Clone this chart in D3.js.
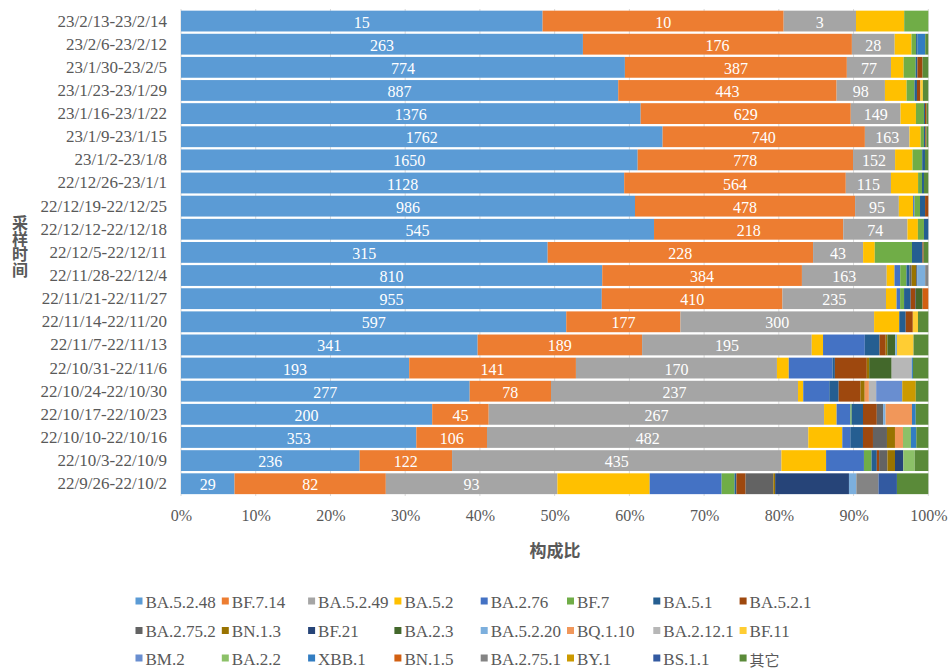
<!DOCTYPE html>
<html><head><meta charset="utf-8">
<script src="https://cdn.jsdelivr.net/npm/d3@7"></script>
<style>body{margin:0;background:#fff} svg{display:block}</style>
</head><body><svg id="c" width="949" height="668"></svg>
<script>
const categories = ["23/2/13-23/2/14","23/2/6-23/2/12","23/1/30-23/2/5","23/1/23-23/1/29","23/1/16-23/1/22","23/1/9-23/1/15","23/1/2-23/1/8","22/12/26-23/1/1","22/12/19-22/12/25","22/12/12-22/12/18","22/12/5-22/12/11","22/11/28-22/12/4","22/11/21-22/11/27","22/11/14-22/11/20","22/11/7-22/11/13","22/10/31-22/11/6","22/10/24-22/10/30","22/10/17-22/10/23","22/10/10-22/10/16","22/10/3-22/10/9","22/9/26-22/10/2"];
const seriesNames = ["BA.5.2.48","BF.7.14","BA.5.2.49","BA.5.2","BA.2.76","BF.7","BA.5.1","BA.5.2.1","BA.2.75.2","BN.1.3","BF.21","BA.2.3","BA.5.2.20","BQ.1.10","BA.2.12.1","BF.11","BM.2","BA.2.2","XBB.1","BN.1.5","BA.2.75.1","BY.1","BS.1.1","其它"];
const seriesColors = ["#5B9BD5","#ED7D31","#A5A5A5","#FFC000","#4472C4","#70AD47","#255E91","#9E480E","#636363","#997300","#264478","#43682B","#7CAFDD","#F1975A","#B7B7B7","#FFCD33","#698ED0","#8CC168","#327DC2","#D26012","#848484","#CC9A00","#335AA1","#5A8A39"];
const xTickValues = [0,0.1,0.2,0.3,0.4,0.5,0.6,0.7,0.8,0.9,1];
const labeledSeries = ["BA.5.2.48","BF.7.14","BA.5.2.49"];

const vBA5248 = [15,263,774,887,1376,1762,1650,1128,986,545,315,810,955,597,341,193,277,200,353,236,29];
const vBF714  = [10,176,387,443,629,740,778,564,478,218,228,384,410,177,189,141,78,45,106,122,82];
const vBA5249 = [3,28,77,98,149,163,152,115,95,74,43,163,235,300,195,170,237,267,482,435,93];
const vBA52   = [2,11,22,44,46,41,63,69,31,12,10,15,24,39,13,10,5,10,51,59,50];
const vBA276  = [0,0,0,0,0,0,0,0,3,0,0,11,8,0,48,37,25,11,12,50,39];
const vBF7    = [1,3,21,16,24,12,35,10,12,7,32,12,9,0,0,0,0,1,0,10,7];
const vBA51   = [0,1,3,5,3,5,10,5,11,5,9,6,15,10,17,2,9,9,19,7,1];
const vBA521  = [0,0,9,7,5,4,0,0,7,0,1,0,10,11,7,27,21,11,15,3,5];
const vBA2752 = [0,0,0,0,0,0,0,0,0,0,0,4,2,0,0,0,0,5,21,11,15];
const vBN13   = [0,0,0,0,0,0,0,0,0,0,0,9,0,0,2,2,4,0,12,10,1];
const vBF21   = [0,0,0,0,0,0,0,0,0,0,0,2,0,0,0,0,0,0,0,11,40];
const vBA23   = [0,0,0,0,0,0,0,0,0,0,0,0,15,0,9,19,0,0,0,0,0];
const vBA5220 = [0,0,0,0,0,0,0,0,0,0,0,15,0,0,2,0,0,2,0,0,4];
const vBQ110  = [0,0,0,0,0,0,0,0,0,0,0,0,0,0,0,0,4,21,12,0,0];
const vBA2121 = [0,0,0,0,0,0,0,0,0,0,0,0,0,0,0,17,7,0,0,0,0];
const vBF11   = [0,0,0,5,0,0,0,0,0,0,0,0,0,8,19,0,0,0,0,0,0];
const vBM2    = [0,0,0,0,0,0,0,0,0,0,0,0,0,0,0,0,25,0,0,0,0];
const vBA22   = [0,0,0,0,0,0,0,0,0,0,0,0,0,0,0,0,0,0,12,15,0];
const vXBB1   = [0,5,0,0,0,0,0,0,0,0,0,0,0,0,0,1,0,3,8,0,0];
const vBN15   = [0,0,0,0,0,0,0,0,0,0,0,0,13,0,0,0,0,0,0,0,0];
const vBA2751 = [0,0,0,0,0,0,0,0,0,0,0,6,0,0,0,0,0,0,0,0,12];
const vBY1    = [0,0,0,0,0,0,0,0,0,0,0,0,0,0,0,0,13,0,0,0,0];
const vBS11   = [0,0,0,0,0,0,0,0,0,0,0,0,0,0,0,0,0,0,0,0,10];
const vOther  = [0,2,10,11,5,7,12,11,0,0,4,0,0,16,17,13,12,10,18,18,17];

const seriesValues = [vBA5248,vBF714,vBA5249,vBA52,vBA276,vBF7,vBA51,vBA521,vBA2752,vBN13,vBF21,vBA23,vBA5220,vBQ110,vBA2121,vBF11,vBM2,vBA22,vXBB1,vBN15,vBA2751,vBY1,vBS11,vOther];

const rows = categories.map((c,i)=>{const o={cat:c}; seriesNames.forEach((s,j)=>o[s]=seriesValues[j][i]); return o;});
const stacked = d3.stack().keys(seriesNames).offset(d3.stackOffsetExpand)(rows);
const color = d3.scaleOrdinal().domain(seriesNames).range(seriesColors);

const svg = d3.select("#c");
const serif = "'Liberation Serif','Times New Roman',serif";
const cjk = "'Noto Sans CJK SC','Noto Sans',sans-serif";
const txt = "#595959";

const x = d3.scaleLinear().domain([0,1]).range([181,928.3]);
const y = d3.scaleBand().domain(categories).range([9.5,495.3]).paddingInner(0.1).paddingOuter(0.05);

// gridlines
svg.append("g").selectAll("line").data(xTickValues).join("line")
  .attr("x1",d=>x(d)).attr("x2",d=>x(d)).attr("y1",9).attr("y2",496)
  .attr("stroke","#D9D9D9").attr("stroke-width",1);

// bars
const layers = svg.append("g").selectAll("g").data(stacked).join("g").attr("fill",d=>color(d.key));
layers.selectAll("rect").data(d=>d).join("rect")
  .attr("x",d=>x(d[0])).attr("width",d=>Math.max(0,x(d[1])-x(d[0])))
  .attr("y",d=>y(d.data.cat)).attr("height",y.bandwidth());

// value labels
const lab = svg.append("g");
stacked.filter(s=>labeledSeries.includes(s.key)).forEach(s=>{
  lab.selectAll(null).data(s).join("text")
    .attr("x",d=>(x(d[0])+x(d[1]))/2).attr("y",d=>y(d.data.cat)+y.bandwidth()/2+1)
    .attr("text-anchor","middle").attr("dominant-baseline","central")
    .attr("fill","#fff").style("font-family",serif).style("font-size","16px")
    .text(d=>d.data[s.key]);
});

// x axis
const xa = svg.append("g").attr("transform","translate(0,0)")
  .call(d3.axisBottom(x).tickValues(xTickValues).tickFormat(d3.format(".0%")).tickSize(0));
xa.select(".domain").remove();
xa.selectAll("text").attr("y",515.5).attr("dy",null).attr("dominant-baseline","central")
  .attr("fill",txt).style("font-family",serif).style("font-size","16px");

// y axis
const ya = svg.append("g").attr("transform","translate(181,0)")
  .call(d3.axisLeft(y).tickSize(0).tickPadding(14));
ya.select(".domain").remove();
ya.selectAll("text").attr("fill",txt).style("font-family",serif).style("font-size","17px");

// axis titles
svg.append("text").attr("x",555).attr("y",549).attr("text-anchor","middle").attr("dominant-baseline","central")
  .attr("fill",txt).style("font-family",cjk).style("font-weight","bold").style("font-size","17px").text("构成比");
svg.append("text").attr("x",20).attr("y",246).attr("text-anchor","middle")
  .style("writing-mode","vertical-rl").style("letter-spacing","-0.5px")
  .attr("fill",txt).style("font-family",cjk).style("font-weight","bold").style("font-size","16px")
  .text("采样时间");

// legend
const leg = svg.append("g");
const legRowY = [601, 630.5, 658];
seriesNames.forEach((s,i)=>{
  const col = i%8, row = Math.floor(i/8);
  const lx = 135.5 + col*86.3, ly = legRowY[row];
  leg.append("rect").attr("x",lx).attr("y",ly-3.5).attr("width",7).attr("height",7).attr("fill",color(s));
  leg.append("text").attr("x",lx+10).attr("y",ly+1).attr("dominant-baseline","central")
    .attr("fill",txt).style("font-family",s==="其它"?cjk:serif).style("font-size",s==="其它"?"15px":"17px").text(s);
});
</script></body></html>
